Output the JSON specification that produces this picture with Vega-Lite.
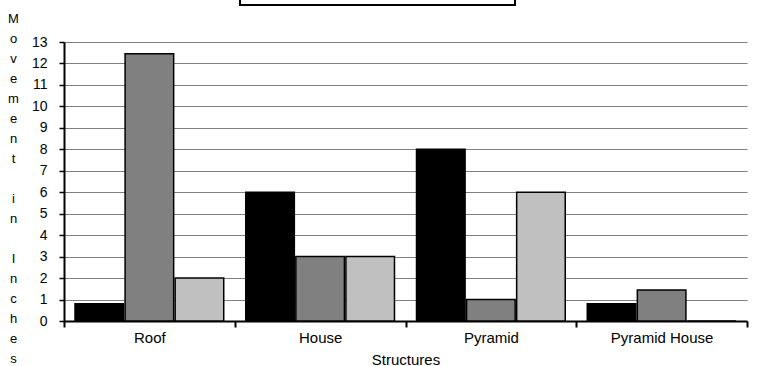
{
  "$schema": "https://vega.github.io/schema/vega-lite/v6.json",
  "width": 683,
  "height": 279,
  "autosize": {"type": "none"},
  "padding": {"left": 64, "top": 42, "right": 13, "bottom": 45},
  "background": "white",
  "data": {
    "values": [
      {"structure": "Roof", "series": "Series1", "inches": 0.8},
      {"structure": "Roof", "series": "Series2", "inches": 12.45},
      {"structure": "Roof", "series": "Series3", "inches": 2},
      {"structure": "House", "series": "Series1", "inches": 6},
      {"structure": "House", "series": "Series2", "inches": 3},
      {"structure": "House", "series": "Series3", "inches": 3},
      {"structure": "Pyramid", "series": "Series1", "inches": 8},
      {"structure": "Pyramid", "series": "Series2", "inches": 1},
      {"structure": "Pyramid", "series": "Series3", "inches": 6},
      {"structure": "Pyramid House", "series": "Series1", "inches": 0.8},
      {"structure": "Pyramid House", "series": "Series2", "inches": 1.45},
      {"structure": "Pyramid House", "series": "Series3", "inches": 0}
    ]
  },
  "mark": {"type": "bar", "stroke": "#000000", "strokeWidth": 1.5},
  "encoding": {
    "x": {
      "field": "structure",
      "type": "nominal",
      "sort": ["Roof", "House", "Pyramid", "Pyramid House"],
      "scale": {"paddingInner": 0, "paddingOuter": 0},
      "axis": {
        "title": "Structures",
        "titleFontSize": 15,
        "titleFontWeight": "normal",
        "titleColor": "#000000",
        "titlePadding": 7,
        "labelAngle": 0,
        "labelFontSize": 15,
        "labelColor": "#000000",
        "labelPadding": 3,
        "tickBand": "extent",
        "tickSize": 6,
        "tickWidth": 2,
        "tickColor": "#000000",
        "domainColor": "#000000",
        "domainWidth": 2,
        "grid": false
      }
    },
    "xOffset": {
      "field": "series",
      "type": "nominal",
      "scale": {"paddingInner": 0.03, "paddingOuter": 0.22}
    },
    "y": {
      "field": "inches",
      "type": "quantitative",
      "scale": {"domain": [0, 13], "nice": false},
      "axis": {
        "values": [0, 1, 2, 3, 4, 5, 6, 7, 8, 9, 10, 11, 12, 13],
        "grid": true,
        "gridColor": "#808080",
        "gridWidth": 1,
        "tickSize": 5,
        "tickWidth": 1.5,
        "tickColor": "#000000",
        "domainColor": "#000000",
        "domainWidth": 2,
        "labelFontSize": 14,
        "labelColor": "#000000",
        "labelPadding": 12,
        "title": ["M", "o", "v", "e", "m", "e", "n", "t", "\u2800", "i", "n", "\u2800", "I", "n", "c", "h", "e", "s"],
        "titleAngle": 0,
        "titleX": -51,
        "titleY": -20,
        "titleAlign": "center",
        "titleBaseline": "alphabetic",
        "titleFontSize": 13,
        "titleFontWeight": "normal",
        "titleColor": "#000000",
        "titleLineHeight": 20
      }
    },
    "fill": {
      "field": "series",
      "type": "nominal",
      "scale": {"range": ["#000000", "#808080", "#c0c0c0"]},
      "legend": {
        "orient": "none",
        "legendX": 176,
        "legendY": -74,
        "direction": "horizontal",
        "title": null,
        "labelExpr": "''",
        "strokeColor": "#000000",
        "fillColor": "#ffffff",
        "padding": 12,
        "columnPadding": 100.5,
        "labelOffset": 4,
        "labelFontSize": 12,
        "symbolType": "square",
        "symbolSize": 100,
        "symbolStrokeColor": "#000000",
        "symbolStrokeWidth": 1
      }
    }
  },
  "config": {
    "font": "Liberation Sans",
    "view": {"stroke": null},
    "legend": {"strokeWidth": 2}
  }
}
